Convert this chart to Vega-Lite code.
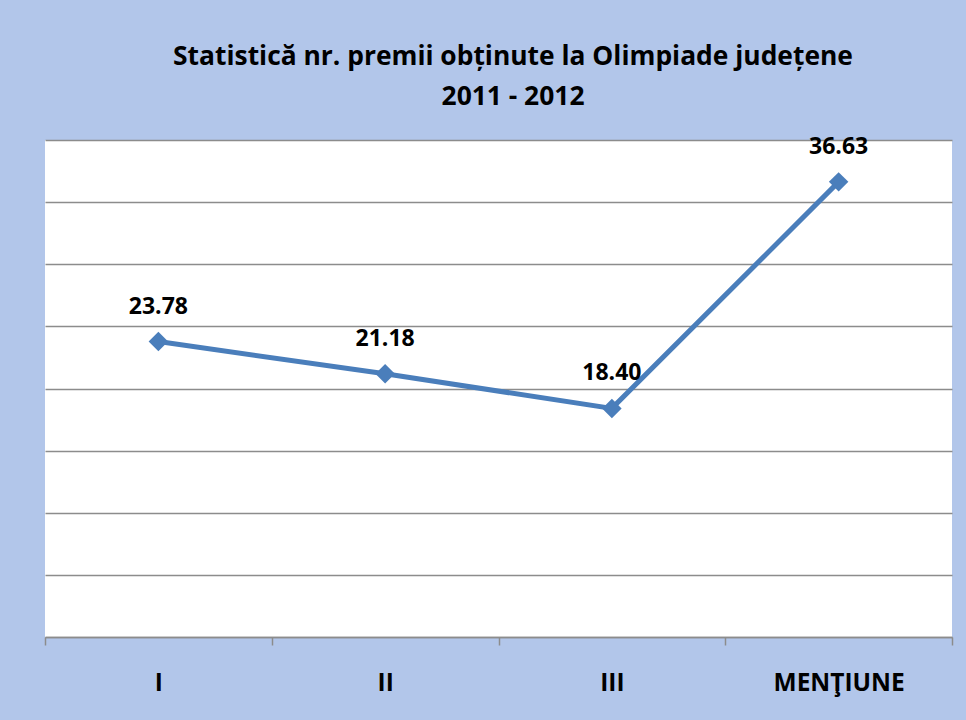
{
  "$schema": "https://vega.github.io/schema/vega-lite/v6.json",
  "width": 907,
  "height": 497,
  "autosize": {"type": "none"},
  "padding": {"left": 45, "top": 140, "right": 14, "bottom": 83},
  "background": "#b2c6ea",
  "title": {
    "text": ["Statistică nr. premii obținute la Olimpiade județene", "2011 - 2012"],
    "font": "Open Sans",
    "fontSize": 26.4,
    "fontWeight": "bold",
    "color": "#000000",
    "lineHeight": 40,
    "anchor": "middle",
    "baseline": "bottom",
    "dx": 14.5,
    "dy": 30,
    "offset": 28
  },
  "data": {
    "values": [
      {"cat": "I", "val": 23.78},
      {"cat": "II", "val": 21.18},
      {"cat": "III", "val": 18.40},
      {"cat": "MENŢIUNE", "val": 36.63}
    ]
  },
  "encoding": {
    "x": {
      "field": "cat",
      "type": "nominal",
      "sort": null,
      "scale": {"type": "band", "paddingInner": 0, "paddingOuter": 0},
      "axis": {
        "title": null,
        "grid": false,
        "domainColor": "#8c8c8c",
        "domainWidth": 1.5,
        "tickColor": "#8c8c8c",
        "tickWidth": 1.5,
        "tickSize": 8,
        "tickBand": "extent",
        "labelAngle": 0,
        "labelFont": "Open Sans",
        "labelFontSize": 24.5,
        "labelFontWeight": "bold",
        "labelColor": "#000000",
        "labelBaseline": "top",
        "labelPadding": 26
      }
    },
    "y": {
      "field": "val",
      "type": "quantitative",
      "scale": {"domain": [0, 40], "nice": false, "zero": true},
      "axis": {
        "title": null,
        "domain": false,
        "ticks": false,
        "labels": false,
        "grid": true,
        "gridColor": "#8c8c8c",
        "gridWidth": 1.5,
        "values": [0, 5, 10, 15, 20, 25, 30, 35, 40]
      }
    }
  },
  "layer": [
    {"mark": {"type": "line", "color": "#4a7ebb", "strokeWidth": 5}},
    {"mark": {"type": "point", "shape": "diamond", "filled": true, "size": 380, "color": "#4a7ebb", "opacity": 1}},
    {
      "mark": {
        "type": "text",
        "dy": -35,
        "baseline": "middle",
        "align": "center",
        "font": "Open Sans",
        "fontSize": 23,
        "fontWeight": "bold",
        "color": "#000000"
      },
      "encoding": {"text": {"field": "val", "type": "quantitative", "format": ".2f"}}
    }
  ],
  "config": {"view": {"fill": "#ffffff", "stroke": null}}
}
